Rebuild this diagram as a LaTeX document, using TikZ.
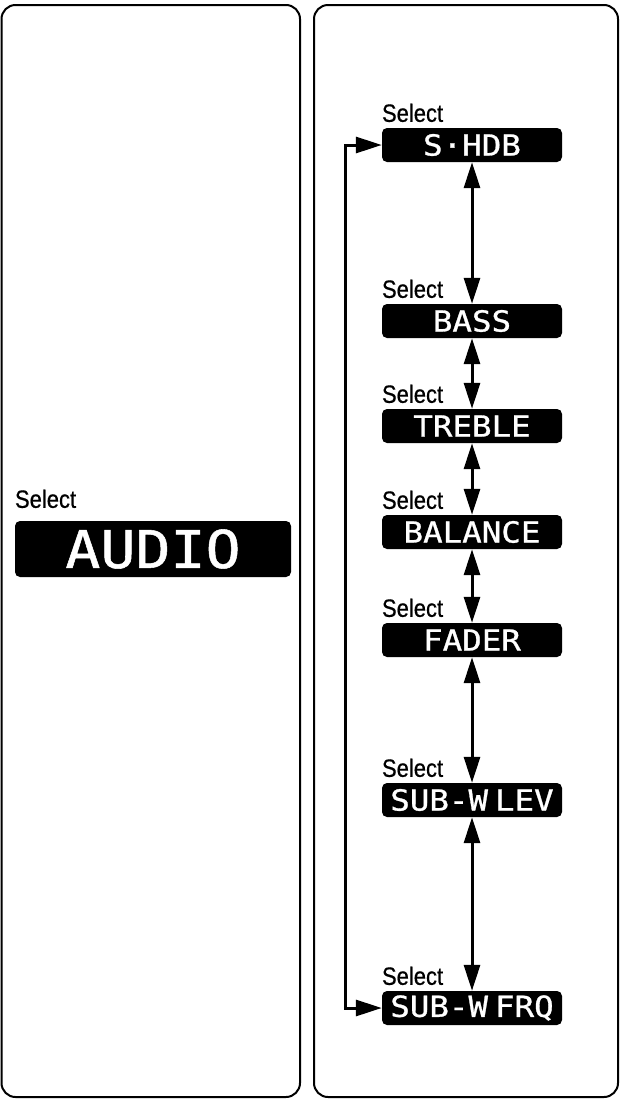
\documentclass[tikz,border=0pt]{standalone}
\usepackage{fontspec}
\usetikzlibrary{arrows.meta,positioning}
\newfontfamily\selfont[FakeStretch=0.88,FakeBold=0.6]{Liberation Sans}
\newfontfamily\dispfont[FakeStretch=1.12,FakeBold=1]{DejaVu Sans Mono}

\begin{document}
\begin{tikzpicture}[x=1pt, y=-1pt, >={Triangle[length=26pt,width=16pt]},
    panel/.style={line width=2pt, rounded corners=14pt},
    disp/.style={fill=black, text=white, rounded corners=5pt, inner sep=0pt,
      minimum width=180pt, minimum height=34pt,
      font=\dispfont\fontsize{29}{30}\selectfont},
    sel/.style={anchor=base west, inner sep=0pt,
      font=\selfont\fontsize{25}{30}\selectfont},
    link/.style={<->, line width=3pt}]

  \useasboundingbox (0,0) rectangle (622,1101);

  % Rahmen
  \draw[panel] (1.5,5) rectangle (300,1097);
  \draw[panel] (314,5) rectangle (618,1097);

  % linke Seite
  \node[disp, minimum width=276pt, minimum height=56pt,
    font=\dispfont\fontsize{52}{54}\selectfont] (audio) at (153,549) {AUDIO};
  \node[sel] (selaudio) at ([yshift=13pt]audio.north west) {Select};

  % rechte Seite
  \foreach \name/\txt/\yy in {shdb/S·HDB/145, bass/BASS/321, treble/TREBLE/426,
      balance/BALANCE/532, fader/FADER/640,
      wlev/SUB-W\hspace{7pt}LEV/800, wfrq/SUB-W\hspace{7pt}FRQ/1008} {
    \node[disp] (\name) at (472,\yy) {\txt};
    \node[sel] (sel\name) at ([yshift=6pt]\name.north west) {Select};
  }

  % Pfeile
  \foreach \a/\b in {shdb/bass, bass/treble, treble/balance,
      balance/fader, fader/wlev, wlev/wfrq}
    \draw[link] (\a) -- (\b);

  \draw[link] (wfrq.west) -- ++(-36,0) |- (shdb.west);

\end{tikzpicture}
\end{document}
